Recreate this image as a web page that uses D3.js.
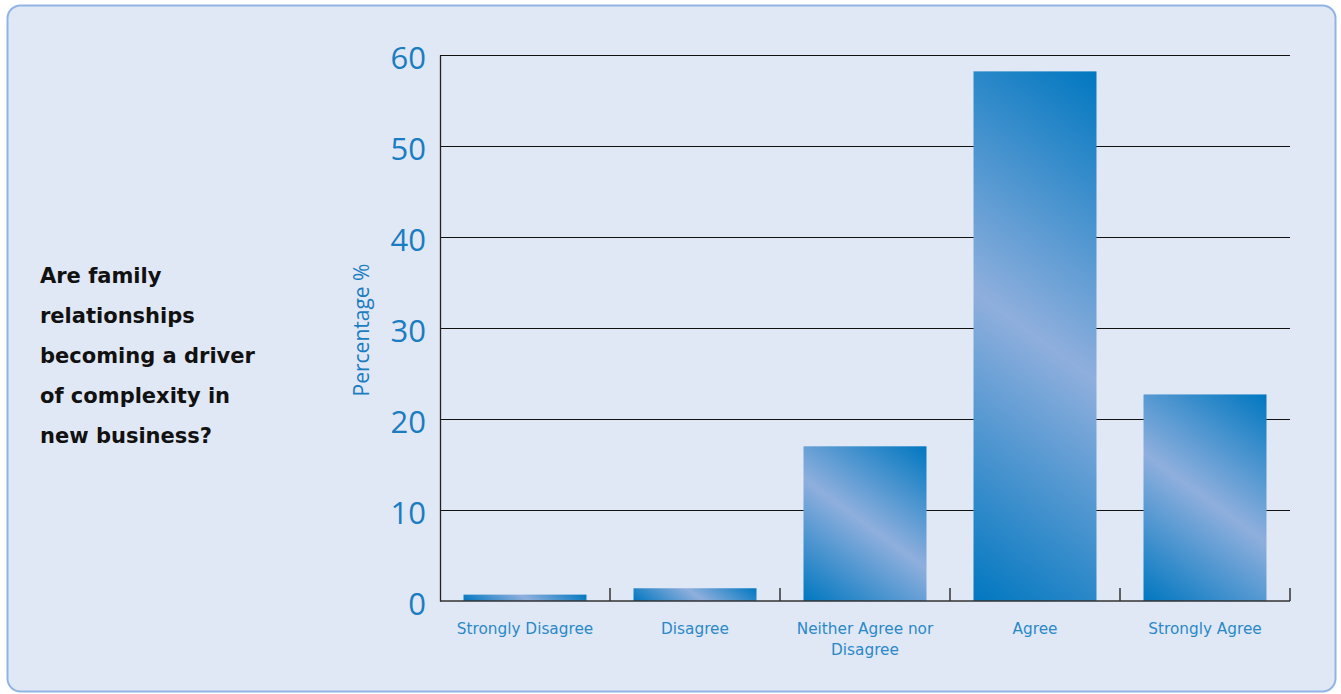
<!DOCTYPE html>
<html>
<head>
<meta charset="utf-8">
<script src="https://cdn.jsdelivr.net/npm/d3@7"></script>
<style>
  html, body { margin: 0; padding: 0; background: #ffffff; }
  svg { display: block; }
</style>
</head>
<body>
<svg id="chart" width="1341" height="694"></svg>
<script>
const categories = ["Strongly Disagree", "Disagree", "Neither Agree nor|Disagree", "Agree", "Strongly Agree"];
const values = [0.7, 1.4, 17.0, 58.2, 22.7];
const yTicks = [0, 10, 20, 30, 40, 50, 60];
const titleLines = ["Are family", "relationships", "becoming a driver", "of complexity in", "new business?"];
const yLabel = "Percentage %";

const svg = d3.select("#chart");

// panel
svg.append("rect")
  .attr("x", 7.5).attr("y", 5.5)
  .attr("width", 1328).attr("height", 686)
  .attr("rx", 13).attr("ry", 13)
  .attr("fill", "#e1e8f5")
  .attr("stroke", "#92b4e4")
  .attr("stroke-width", 2);

const m = { left: 440, right: 1290, top: 55, bottom: 601 };

const x = d3.scaleBand()
  .domain(categories)
  .range([m.left, m.right])
  .paddingInner(0.2765)
  .paddingOuter(0.13825);

const y = d3.scaleLinear().domain([0, 60]).range([m.bottom, m.top]);

// title
const title = svg.append("text")
  .attr("font-family", "'DejaVu Sans', sans-serif")
  .attr("font-weight", "bold")
  .attr("font-size", 21)
  .attr("fill", "#111");
titleLines.forEach((t, i) => {
  title.append("tspan").attr("x", 40).attr("y", 283 + i * 40).text(t);
});

// gridlines
const grid = svg.append("g")
  .attr("transform", `translate(${m.left},0)`)
  .call(d3.axisRight(y).tickValues(yTicks.filter(d => d > 0)).tickSize(m.right - m.left).tickFormat(""));
grid.select(".domain").remove();
grid.selectAll(".tick line").attr("stroke", "#111").attr("stroke-width", 1.2);

// y axis
const yAxis = svg.append("g")
  .attr("transform", `translate(${m.left},0)`)
  .call(d3.axisLeft(y).tickValues(yTicks).tickSize(0).tickPadding(14));
yAxis.select(".domain").attr("stroke", "#222").attr("stroke-width", 1.3);
yAxis.selectAll(".tick text")
  .attr("font-family", "'Open Sans', 'Noto Sans', sans-serif")
  .attr("font-size", 31)
  .attr("dy", "0.42em")
  .attr("fill", "#1a7cc1");

// y label
svg.append("text")
  .attr("transform", `translate(369,${(m.top + m.bottom) / 2 + 2}) rotate(-90)`)
  .attr("text-anchor", "middle")
  .attr("font-family", "'Open Sans', 'Noto Sans', sans-serif")
  .attr("font-size", 21)
  .attr("fill", "#1a7cc1")
  .text(yLabel);

// gradients & bars
const defs = svg.append("defs");
const dir = [0.59, -0.81];
categories.forEach((c, i) => {
  const bx = x(c), bw = x.bandwidth();
  const by = y(values[i]), bh = y(0) - y(values[i]);
  const cx = bx + bw / 2, cy = by + bh / 2;
  const hl = Math.abs(bw / 2 * dir[0]) + Math.abs(bh / 2 * dir[1]);
  const g = defs.append("linearGradient")
    .attr("id", "grad" + i)
    .attr("gradientUnits", "userSpaceOnUse")
    .attr("x1", cx - dir[0] * hl).attr("y1", cy - dir[1] * hl)
    .attr("x2", cx + dir[0] * hl).attr("y2", cy + dir[1] * hl);
  g.append("stop").attr("offset", "0").attr("stop-color", "#0077c0");
  g.append("stop").attr("offset", "0.5").attr("stop-color", "#8fafdd");
  g.append("stop").attr("offset", "1").attr("stop-color", "#0077c0");
});

svg.append("g").selectAll("rect")
  .data(categories)
  .join("rect")
  .attr("x", d => x(d))
  .attr("y", (d, i) => y(values[i]))
  .attr("width", x.bandwidth())
  .attr("height", (d, i) => y(0) - y(values[i]))
  .attr("fill", (d, i) => `url(#grad${i})`);

// x axis baseline and ticks at band boundaries
const boundaries = categories.map(c => x(c) - x.step() * x.paddingInner() / 2).concat([m.right]);
svg.append("line")
  .attr("x1", m.left).attr("x2", m.right)
  .attr("y1", m.bottom).attr("y2", m.bottom)
  .attr("stroke", "#333").attr("stroke-width", 1.5);
svg.append("g").selectAll("line")
  .data(boundaries.slice(1))
  .join("line")
  .attr("x1", d => d).attr("x2", d => d)
  .attr("y1", m.bottom).attr("y2", m.bottom - 13)
  .attr("stroke", "#333").attr("stroke-width", 1.5);

// x labels
const xl = svg.append("g").selectAll("text")
  .data(categories)
  .join("text")
  .attr("text-anchor", "middle")
  .attr("font-family", "'DejaVu Sans', sans-serif")
  .attr("font-size", 15.3)
  .attr("fill", "#2a88c8");
xl.each(function(d) {
  const parts = d.split("|");
  const t = d3.select(this);
  parts.forEach((p, k) => {
    t.append("tspan")
      .attr("x", x(d) + x.bandwidth() / 2)
      .attr("y", 634 + k * 21)
      .text(p);
  });
});
</script>
</body>
</html>
